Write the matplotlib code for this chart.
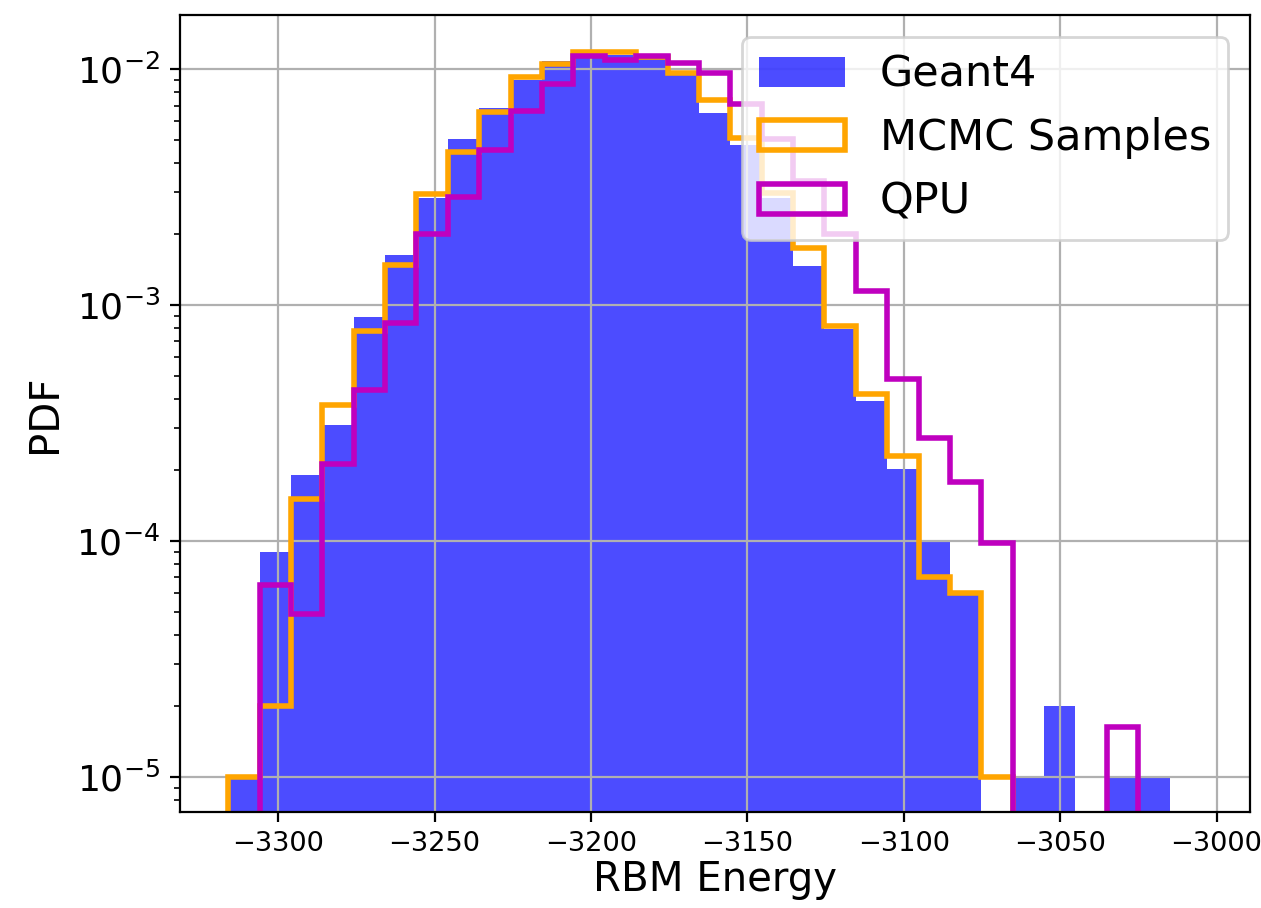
import numpy as np
import matplotlib
matplotlib.use("Agg")
import matplotlib.pyplot as plt

# Shared binning: 30 equal-width bins spanning the Geant4 energy range
bin_lo, bin_hi, n_bins = -3316.0, -3015.0, 30

# Normalised densities per bin (density=True histograms)
geant4_pdf = [1.0e-5, 9.0e-5, 1.9e-4, 3.1e-4, 8.9e-4,
              1.62e-3, 2.85e-3, 5.03e-3, 6.86e-3, 9.0e-3,
              1.08e-2, 1.13e-2, 1.15e-2, 1.10e-2, 9.4e-3,
              6.48e-3, 4.76e-3, 2.85e-3, 1.46e-3, 7.88e-4,
              3.92e-4, 2.01e-4, 1.0e-4, 6.0e-5, 0.0,
              1.0e-5, 2.0e-5, 0.0, 1.0e-5, 1.0e-5]

mcmc_pdf = [1.0e-5, 2.0e-5, 1.5e-4, 3.78e-4, 7.76e-4,
            1.47e-3, 2.94e-3, 4.46e-3, 6.59e-3, 9.28e-3,
            1.055e-2, 1.185e-2, 1.185e-2, 1.12e-2, 9.6e-3,
            7.39e-3, 5.08e-3, 2.98e-3, 1.75e-3, 8.15e-4,
            4.18e-4, 2.29e-4, 7.0e-5, 6.0e-5, 1.0e-5,
            0.0, 0.0, 0.0, 0.0, 0.0]

qpu_pdf = [0.0, 6.5e-5, 4.9e-5, 2.12e-4, 4.35e-4,
           8.36e-4, 2.0e-3, 2.87e-3, 4.53e-3, 6.65e-3,
           8.66e-3, 1.13e-2, 1.09e-2, 1.135e-2, 1.057e-2,
           9.6e-3, 7.13e-3, 5.05e-3, 3.36e-3, 2.0e-3,
           1.15e-3, 4.84e-4, 2.74e-4, 1.77e-4, 9.8e-5,
           0.0, 0.0, 0.0, 1.63e-5, 0.0]

edges = np.linspace(bin_lo, bin_hi, n_bins + 1)
centers = 0.5 * (edges[:-1] + edges[1:])

W, H, DPI = 1261, 908, 200
fig = plt.figure(figsize=(W / DPI, H / DPI), dpi=DPI)
ax = fig.add_axes([180 / W, (H - 812) / H, (1250 - 180) / W, (812 - 15) / H])

ax.hist(centers, bins=edges, weights=geant4_pdf, color="blue", alpha=0.7,
        label="Geant4", log=True)
ax.hist(centers, bins=edges, weights=mcmc_pdf, histtype="step", color="orange",
        linewidth=2, label="MCMC Samples", log=True)
ax.hist(centers, bins=edges, weights=qpu_pdf, histtype="step", color="m",
        linewidth=2, label="QPU", log=True)

ax.set_xlim(-3331.4, -2989.3)
ax.set_ylim(7.09e-6, 1.694e-2)
ax.grid(True)
ax.tick_params(axis="x", labelsize=9.8)
ax.tick_params(axis="y", labelsize=13)
ax.set_xlabel("RBM Energy", fontsize=14.5, labelpad=1)
ax.set_ylabel("PDF", fontsize=14.5)
ax.legend(fontsize=15.5, loc="upper right")

fig.savefig("out.png", dpi=DPI)
